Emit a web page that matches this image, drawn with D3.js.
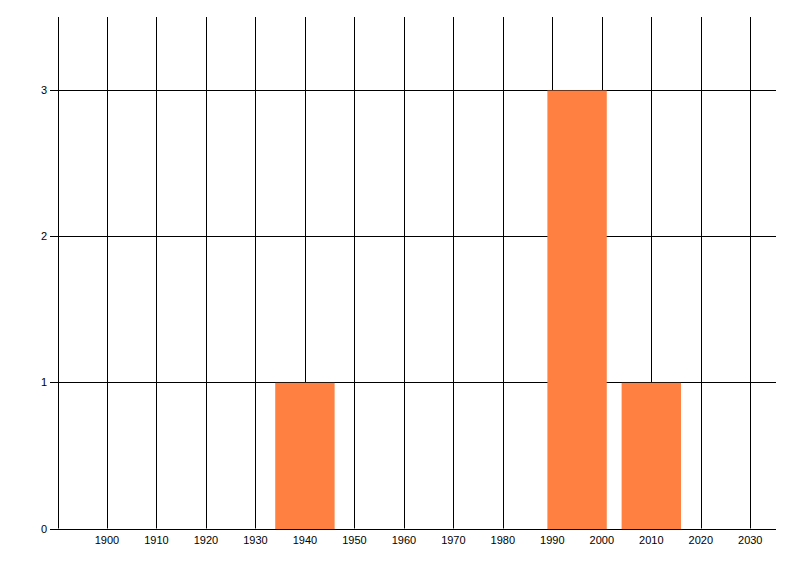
<!DOCTYPE html>
<html><head><meta charset="utf-8">
<script src="https://cdn.jsdelivr.net/npm/d3@7"></script>
<style>body{margin:0;background:#fff}svg{display:block}text{font-family:"Liberation Sans",Arial,sans-serif;font-size:11px;fill:#000}</style>
</head><body>
<svg id="c" width="800" height="576"></svg>
<script>
const years = [1940, 1995, 2010];
const counts = [1, 3, 1];
const xTicks = [1900,1910,1920,1930,1940,1950,1960,1970,1980,1990,2000,2010,2020,2030];
const xGrid = [1890].concat(xTicks);
const yTicks = [0,1,2,3];

const svg = d3.select("#c");
const L = 57.5, R = 776, T = 17, B = 528.5;
const x = d3.scaleLinear().domain([1890, 2035.2]).range([L, R]);
const y = d3.scaleLinear().domain([0, 3.5]).range([B, T]);
const barW = 12;

// vertical grid
svg.append("g").selectAll("line").data(xGrid).join("line")
  .attr("x1", d => Math.round(x(d)) + 0.5).attr("x2", d => Math.round(x(d)) + 0.5)
  .attr("y1", T).attr("y2", B)
  .attr("stroke", "#000").attr("stroke-width", 1);
// horizontal grid
svg.append("g").selectAll("line").data(yTicks).join("line")
  .attr("x1", 50).attr("x2", R)
  .attr("y1", d => Math.round(y(d)) + 0.5).attr("y2", d => Math.round(y(d)) + 0.5)
  .attr("stroke", "#000").attr("stroke-width", 1);

// bars
svg.append("g").selectAll("rect").data(years.map((yr,i)=>({yr, v: counts[i]}))).join("rect")
  .attr("x", d => x(d.yr - barW/2))
  .attr("width", d => x(d.yr + barW/2) - x(d.yr - barW/2))
  .attr("y", d => y(d.v) + 0.5)
  .attr("height", d => y(0) - y(d.v))
  .attr("fill", "#ff8040");

// bottom axis line on top
svg.append("line").attr("x1", 50).attr("x2", R).attr("y1", Math.round(y(0))+0.5).attr("y2", Math.round(y(0))+0.5).attr("stroke","#000");

// labels
svg.append("g").selectAll("text").data(xTicks).join("text")
  .attr("x", d => x(d)).attr("y", 544)
  .attr("text-anchor", "middle").text(d => d);
svg.append("g").selectAll("text").data(yTicks).join("text")
  .attr("x", 47).attr("y", d => y(d) + 4)
  .attr("text-anchor", "end").text(d => d);
</script>
</body></html>
